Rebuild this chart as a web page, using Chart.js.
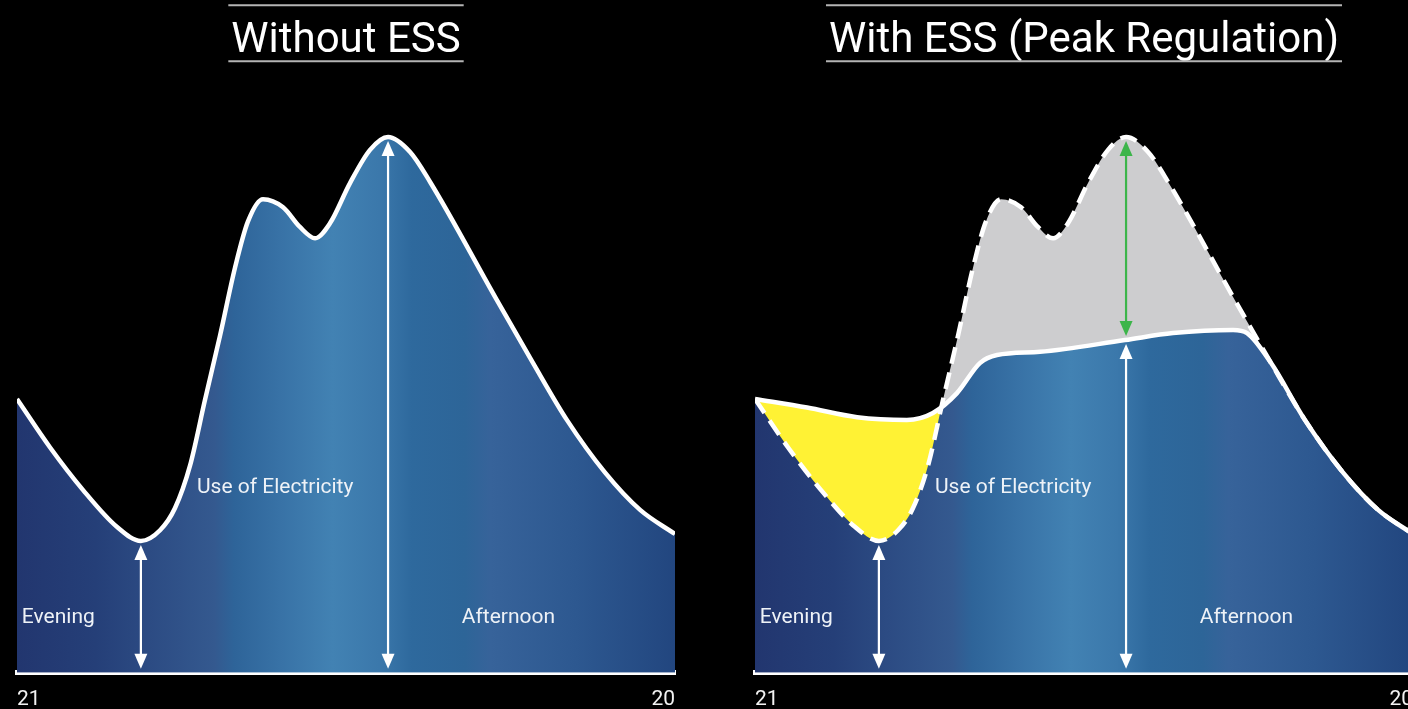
<!DOCTYPE html>
<html>
<head>
<meta charset="utf-8">
<script src="https://cdn.jsdelivr.net/npm/chart.js@4.4.1/dist/chart.umd.min.js"></script>
<style>
  html, body { margin: 0; padding: 0; background: #000; width: 1408px; height: 709px; overflow: hidden; }
  .panel { position: absolute; top: 0; width: 704px; height: 727px; }
  #panel-without { left: 0; }
  #panel-with    { left: 738px; }
</style>
</head>
<body>
<div class="panel" id="panel-without"><canvas id="chart-without"></canvas></div>
<div class="panel" id="panel-with"><canvas id="chart-with"></canvas></div>
<script>
// ── Data ───────────────────────────────────────
const HOUR_LABELS = ['21', '22', '23', '0', '1', '2', '3', '4', '5', '6', '7', '8',
                     '9', '10', '11', '12', '13', '14', '15', '16', '17', '18', '19', '20'];

// load without storage (x = hours after 21:00, y = relative load)
const baseHours = [0, 1.15, 2.31, 3.5, 4.33, 5.0, 5.52, 6.05, 6.57, 7.1, 7.62, 8.07, 8.6, 9.3, 9.89, 10.42,
                   10.94, 11.64, 12.34, 12.97, 13.74, 14.44, 16.78, 18.04, 19.22, 20.55, 21.78, 23];
const baseLoad  = [51.1, 42.1, 34.1, 27.2, 24.6, 26.6, 30.7, 38.7, 50.9, 63.0, 75.6, 84.2, 88.4, 86.9, 83.2, 81.1,
                   83.9, 91.4, 97.6, 100, 97.2, 91.6, 69.5, 57.8, 47.2, 37.4, 30.4, 25.9];

// load with ESS peak regulation
const essHours = [0, 1.82, 3.57, 5.31, 6.22, 7.06, 7.86, 8.46, 9.96, 12.93, 14.61, 16.71, 17.2,
                  18.04, 19.22, 20.55, 21.78, 23];
const essLoad  = [51.1, 49.5, 47.7, 47.2, 48.5, 52.2, 57.8, 59.3, 59.9, 62.1, 63.4, 64.0, 63.4,
                  57.8, 47.2, 37.4, 30.4, 25.9];

// double arrows: valley and peak of the base curve
const arrowHours = [4.33, 12.97];
const arrowTops  = [24.6, 100];
const essCapLoad = 62.1;   // ESS curve level at the peak hour

const REGION_LABELS = ['Evening', 'Use of Electricity', 'Afternoon'];
const regionHours   = [0.17, 6.29, 15.55];
const regionLoad    = [10.2, 34.5, 10.2];

// ── Helpers ────────────────────────────────────
const toXY = (hs, vs) => hs.map((h, i) => ({ x: h, y: vs[i] }));

const BLUE_STOPS = [
  [0, '#22366f'], [0.12, '#253f78'], [0.2, '#2c4b83'], [0.3, '#34598f'], [0.33, '#2e6499'],
  [0.4, '#3872a6'], [0.48, '#4282b3'], [0.55, '#3b78ab'], [0.6, '#2e699d'], [0.68, '#2d6598'],
  [0.72, '#37639a'], [0.85, '#2d5890'], [1, '#22467f'],
];

function blueFill(context) {
  const area = context.chart.chartArea;
  if (!area) return '#2e6599';
  const g = context.chart.ctx.createLinearGradient(area.left, 0, area.right, 0);
  BLUE_STOPS.forEach(([p, c]) => g.addColorStop(p, c));
  return g;
}

function drawArrow(ctx, px, yFrom, yTo, color) {
  const gap = 4, head = 15, half = 6.5;
  const yb = yFrom - gap, yt = yTo + gap;
  ctx.strokeStyle = color;
  ctx.fillStyle = color;
  ctx.lineWidth = 2.2;
  ctx.beginPath();
  ctx.moveTo(px, yb - head + 2);
  ctx.lineTo(px, yt + head - 2);
  ctx.stroke();
  ctx.beginPath();
  ctx.moveTo(px, yt); ctx.lineTo(px - half, yt + head); ctx.lineTo(px + half, yt + head);
  ctx.closePath(); ctx.fill();
  ctx.beginPath();
  ctx.moveTo(px, yb); ctx.lineTo(px - half, yb - head); ctx.lineTo(px + half, yb - head);
  ctx.closePath(); ctx.fill();
}

function overlay(arrows) {
  return {
    id: 'overlay',
    afterDatasetsDraw(chart) {
      const { ctx, scales: { x, y } } = chart;
      ctx.save();
      arrows.forEach(a => drawArrow(ctx, x.getPixelForValue(a.x), y.getPixelForValue(a.from), y.getPixelForValue(a.to), a.color));
      ctx.font = '21px Roboto';
      ctx.fillStyle = '#eef2f7';
      ctx.textAlign = 'left';
      ctx.textBaseline = 'middle';
      REGION_LABELS.forEach((t, i) => ctx.fillText(t, x.getPixelForValue(regionHours[i]), y.getPixelForValue(regionLoad[i])));
      ctx.restore();
    },
  };
}

// grey rules above and below the title
const titleRules = {
  id: 'titleRules',
  afterDraw(chart) {
    const t = chart.titleBlock;
    if (!t) return;
    const ctx = chart.ctx;
    const opts = chart.options.plugins.title;
    ctx.save();
    ctx.font = '42px Roboto';
    const w = ctx.measureText(opts.text).width + 6;
    const cx = (t.left + t.right) / 2;
    const cy = t.top + 16 + 25.2;
    ctx.strokeStyle = '#b4b4b4';
    ctx.lineWidth = 2;
    [cy - 36, cy + 20].forEach(yy => {
      ctx.beginPath();
      ctx.moveTo(cx - w / 2, yy);
      ctx.lineTo(cx + w / 2, yy);
      ctx.stroke();
    });
    ctx.restore();
  },
};

Chart.defaults.font.family = 'Roboto';

function makeChart(id, title, datasets, arrows) {
  return new Chart(document.getElementById(id), {
    type: 'line',
    data: { datasets },
    options: {
      responsive: true,
      maintainAspectRatio: false,
      animation: false,
      layout: { padding: { left: 17, right: 29, top: 0, bottom: 0 } },
      elements: { point: { radius: 0 } },
      plugins: {
        legend: { display: false },
        tooltip: { enabled: false },
        filler: { drawTime: 'beforeDatasetsDraw' },
        title: {
          display: true, text: title, color: '#ffffff',
          font: { size: 42, weight: 'normal' },
          padding: { top: 16, bottom: 17 },
        },
      },
      scales: {
        x: {
          type: 'linear', min: 0, max: 23, z: 1,
          grid: { display: false, drawTicks: false },
          border: { display: true, color: '#ffffff', width: 5 },
          afterBuildTicks: s => { s.ticks = [{ value: 0 }, { value: 23 }]; },
          ticks: { color: '#f2f2f2', font: { size: 21 }, padding: 14.5, align: 'inner', maxRotation: 0,
                   callback: v => HOUR_LABELS[v] },
        },
        y: { display: false, min: 0, max: 110 },
      },
    },
    plugins: [overlay(arrows), titleRules],
  });
}

// ── Without ESS ────────────────────────────────
makeChart('chart-without', 'Without ESS', [
  {
    data: toXY(baseHours, baseLoad),
    borderColor: '#ffffff', borderWidth: 4.5,
    backgroundColor: blueFill, fill: 'origin',
    cubicInterpolationMode: 'monotone',
  },
], [
  { x: arrowHours[0], from: 0, to: arrowTops[0], color: '#ffffff' },
  { x: arrowHours[1], from: 0, to: arrowTops[1], color: '#ffffff' },
]);

// ── With ESS ───────────────────────────────────
makeChart('chart-with', 'With ESS (Peak Regulation)', [
  {
    data: toXY(baseHours, baseLoad),
    borderColor: '#ffffff', borderWidth: 4.5, borderDash: [17, 9],
    fill: { target: 1, above: '#cdcdcf', below: '#fff234' },
    cubicInterpolationMode: 'monotone',
  },
  {
    data: toXY(essHours, essLoad),
    borderColor: '#ffffff', borderWidth: 4.5,
    backgroundColor: blueFill, fill: 'origin',
    cubicInterpolationMode: 'monotone',
  },
], [
  { x: arrowHours[0], from: 0, to: arrowTops[0], color: '#ffffff' },
  { x: arrowHours[1], from: 0, to: essCapLoad, color: '#ffffff' },
  { x: arrowHours[1], from: essCapLoad, to: arrowTops[1], color: '#3cb54a' },
]);
</script>
</body>
</html>
